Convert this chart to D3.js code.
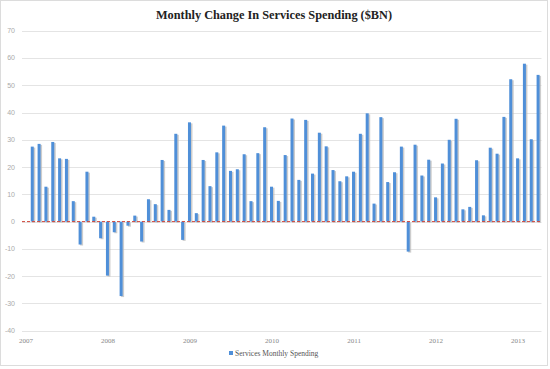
<!DOCTYPE html>
<html lang="en">
<head>
  <meta charset="UTF-8" />
  <title>Monthly Change In Services Spending</title>
  <script src="https://d3js.org/d3.v7.min.js"></script>
  <style>
    body { margin: 0; background: #fff; }
    .grid line { stroke: #e4e4e4; stroke-width: 1px; }
    .ytick text { font: 7px "Liberation Sans", sans-serif; fill: #aaa; }
    .xtick text { font: 7px "Liberation Serif", serif; fill: #888; }
    .title { font: bold 12.3px "Liberation Serif", serif; fill: #222; }
    .legend text { font: 7.5px "Liberation Serif", serif; fill: #555; }
  </style>
</head>
<body>
<script>
  // first month is Jan 2007 (no change value), last is Apr 2013
  const firstMonth = new Date(Date.UTC(2007, 0, 1));
  const lastMonth  = new Date(Date.UTC(2013, 3, 1));

  // monthly change, $BN (Jan 2007 has none)
  const values = [
    null, 27.5, 28.5, 12.8, 29.2, 23.2, 23, 7.5, -8.4, 18.3, 1.8, -6.1,
    -19.8, -3.9, -27.3, -1.5, 2.2, -7.3, 8.2, 6.4, 22.6, 4.3, 32.2, -6.7,
    36.4, 3.1, 22.6, 13, 25.4, 35.2, 18.6, 19.2, 24.7, 7.5, 25.1, 34.6,
    12.8, 7.6, 24.4, 37.8, 15.3, 37.3, 17.6, 32.6, 27.6, 18.9, 14.8, 16.6,
    18.3, 32.2, 39.7, 6.6, 38.3, 14.5, 18.1, 27.5, -11, 28.2, 16.9, 22.7,
    8.9, 21.3, 30, 37.7, 4.5, 5.4, 22.5, 2.3, 27.1, 24.9, 38.4, 52.2,
    23.2, 57.9, 30.2, 53.8
  ];

  const yearLabels = ["2007", "2008", "2009", "2010", "2011", "2012", "2013"];
  const yTicks = [70, 60, 50, 40, 30, 20, 10, 0, -10, -20, -30, -40];

  const months = d3.utcMonth.range(firstMonth, d3.utcMonth.offset(lastMonth, 1));
  const keys = months.map(d => d3.utcFormat("%Y-%m")(d));

  const W = 550, H = 369;
  const svg = d3.select("body").append("svg")
      .attr("width", W)
      .attr("height", H);

  // outer frame
  svg.append("rect")
      .attr("x", 0.5).attr("y", 0.5)
      .attr("width", 547).attr("height", 365)
      .attr("fill", "none")
      .attr("stroke", "#dcdcdc");

  const x = d3.scaleBand().domain(keys).range([22, 541.5]).padding(0);
  const y = d3.scaleLinear().domain([-40, 70]).range([330.7, 30.7]);

  svg.append("text")
      .attr("class", "title")
      .attr("x", 274).attr("y", 19)
      .attr("text-anchor", "middle")
      .text("Monthly Change In Services Spending ($BN)");

  // gridlines + y labels
  const grid = svg.append("g").attr("class", "grid");
  grid.selectAll("line")
    .data(yTicks)
    .enter().append("line")
      .attr("x1", 22).attr("x2", 541.5)
      .attr("y1", d => Math.round(y(d)) + 0.5)
      .attr("y2", d => Math.round(y(d)) + 0.5);

  svg.append("g").attr("class", "ytick")
    .selectAll("text")
    .data(yTicks)
    .enter().append("text")
      .attr("x", 15)
      .attr("y", d => y(d))
      .attr("dy", "0.35em")
      .attr("text-anchor", "end")
      .text(d => d);

  // x labels at each January
  svg.append("g").attr("class", "xtick")
    .selectAll("text")
    .data(yearLabels)
    .enter().append("text")
      .attr("x", d => x(d + "-01") + x.bandwidth() / 2 + 0.5)
      .attr("y", 343)
      .attr("text-anchor", "middle")
      .text(d => d);

  const barData = keys.map((k, i) => ({ key: k, value: values[i] }))
    .filter(d => d.value !== null);
  const bw = 3;

  // shadows
  svg.append("g")
    .selectAll("rect")
    .data(barData)
    .enter().append("rect")
      .attr("x", d => x(d.key) + (x.bandwidth() - bw) / 2 + 1.5)
      .attr("y", d => Math.min(y(d.value), y(0)) + 1)
      .attr("width", bw)
      .attr("height", d => Math.abs(y(d.value) - y(0)))
      .attr("fill", "#b8b8b8")
      .attr("opacity", 0.7);

  // bars
  svg.append("g")
    .selectAll("rect")
    .data(barData)
    .enter().append("rect")
      .attr("x", d => x(d.key) + (x.bandwidth() - bw) / 2)
      .attr("y", d => Math.min(y(d.value), y(0)))
      .attr("width", bw)
      .attr("height", d => Math.abs(y(d.value) - y(0)))
      .attr("fill", "#4f8fd8");

  // zero line, red dashed
  svg.append("line")
      .attr("x1", 22).attr("x2", 541.5)
      .attr("y1", y(0)).attr("y2", y(0))
      .attr("stroke", "#d0463a")
      .attr("stroke-width", 1)
      .attr("stroke-dasharray", "3,2");

  // legend
  const lg = svg.append("g").attr("class", "legend");
  lg.append("rect")
      .attr("x", 229).attr("y", 351)
      .attr("width", 4).attr("height", 4)
      .attr("fill", "#4f8fd8");
  lg.append("text")
      .attr("x", 235).attr("y", 355.5)
      .text("Services Monthly Spending");
</script>
</body>
</html>
